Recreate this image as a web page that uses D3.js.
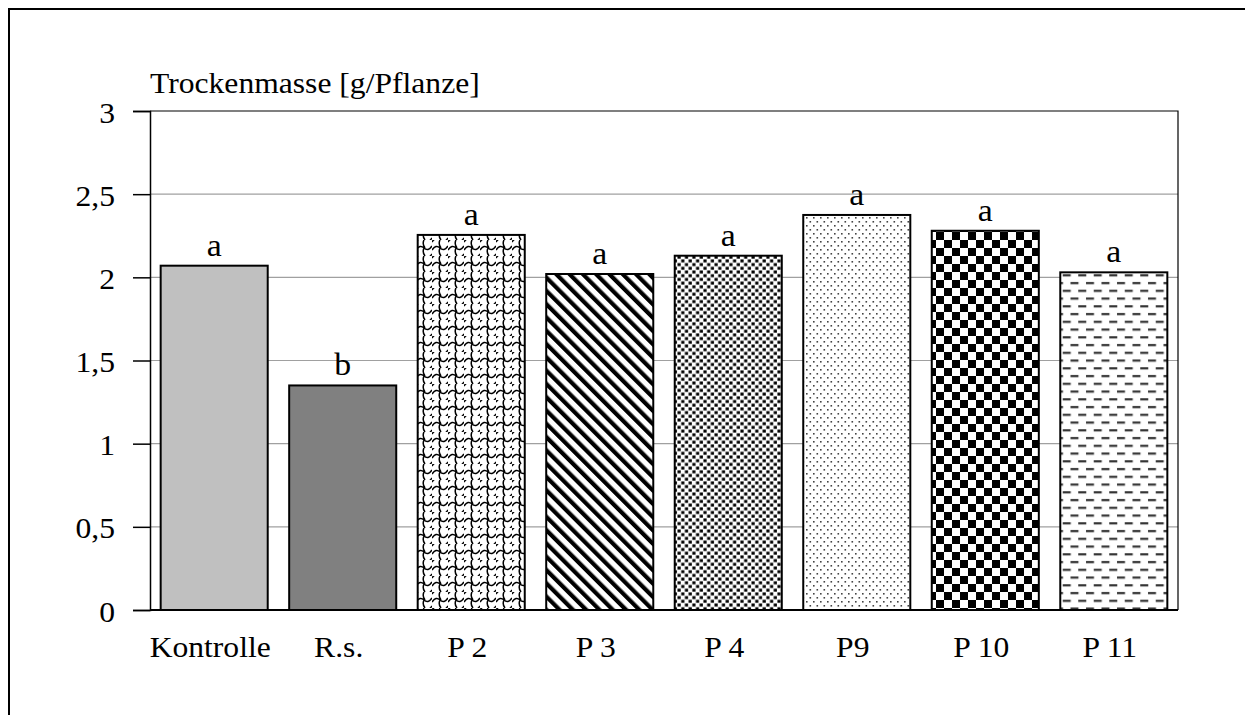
<!DOCTYPE html>
<html>
<head>
<meta charset="utf-8">
<script src="https://cdn.jsdelivr.net/npm/d3@7"></script>
<style>
  body { margin: 0; background: #fff; }
  text { font-family: "Liberation Serif", "Times New Roman", serif; fill: #000; }
</style>
</head>
<body>
<div class="visualization"></div>
<script>
const categories = ["Kontrolle", "R.s.", "P 2", "P 3", "P 4", "P9", "P 10", "P 11"];
const values = [2.07, 1.35, 2.255, 2.02, 2.13, 2.375, 2.28, 2.03];
const letters = ["a", "b", "a", "a", "a", "a", "a", "a"];
const yTicks = [0, 0.5, 1, 1.5, 2, 2.5, 3];
const fills = ["#c0c0c0", "#808080", "url(#shingle)", "url(#stripes)", "url(#dots)", "url(#fine)", "url(#checker)", "url(#dashes)"];

const stretch = 1.09; // the original text is slightly wide

const svg = d3.select(".visualization")
    .append("svg")
    .attr("width", 1245)
    .attr("height", 715);

// outer frame
svg.append("rect")
    .attr("x", 9).attr("y", 9)
    .attr("width", 1300).attr("height", 800)
    .attr("fill", "none").attr("stroke", "#000").attr("stroke-width", 2);

const defs = svg.append("defs");

// shingle-like pattern
let p = defs.append("pattern").attr("id", "shingle").attr("patternUnits", "userSpaceOnUse")
    .attr("width", 16).attr("height", 16);
p.append("rect").attr("width", 16).attr("height", 16).attr("fill", "#fff");
p.append("path")
    .attr("d", "M0,10 Q4,4 8,8 Q12,12 16,6 M0,2 Q4,-4 8,0 M8,16 Q12,20 16,14 M8,8 Q6,12 9,16 M8,0 Q6,4 9,8")
    .attr("fill", "none").attr("stroke", "#000").attr("stroke-width", 1.5);

// diagonal stripes (top-left to bottom-right)
p = defs.append("pattern").attr("id", "stripes").attr("patternUnits", "userSpaceOnUse")
    .attr("width", 9.4).attr("height", 12).attr("patternTransform", "rotate(-45)");
p.append("rect").attr("width", 9.4).attr("height", 12).attr("fill", "#fff");
p.append("rect").attr("x", 0).attr("width", 4.2).attr("height", 12).attr("fill", "#000");

// dense dots
p = defs.append("pattern").attr("id", "dots").attr("patternUnits", "userSpaceOnUse")
    .attr("width", 7.4).attr("height", 7.4);
p.append("rect").attr("width", 7.4).attr("height", 7.4).attr("fill", "#fff");
p.append("rect").attr("x", 0.4).attr("y", 0.4).attr("width", 3.2).attr("height", 3).attr("fill", "#000");
p.append("rect").attr("x", 4.1).attr("y", 4.1).attr("width", 3.2).attr("height", 3).attr("fill", "#000");

// fine sparse dots
p = defs.append("pattern").attr("id", "fine").attr("patternUnits", "userSpaceOnUse")
    .attr("width", 7).attr("height", 8);
p.append("rect").attr("width", 7).attr("height", 8).attr("fill", "#fff");
p.append("rect").attr("x", 1).attr("y", 1).attr("width", 1.6).attr("height", 1.6).attr("fill", "#444");
p.append("rect").attr("x", 4.5).attr("y", 5).attr("width", 1.6).attr("height", 1.6).attr("fill", "#444");

// checkerboard
p = defs.append("pattern").attr("id", "checker").attr("patternUnits", "userSpaceOnUse")
    .attr("width", 16).attr("height", 16);
p.append("rect").attr("width", 16).attr("height", 16).attr("fill", "#fff");
p.append("rect").attr("x", 0).attr("y", 0).attr("width", 8).attr("height", 8).attr("fill", "#000");
p.append("rect").attr("x", 8).attr("y", 8).attr("width", 8).attr("height", 8).attr("fill", "#000");

// horizontal dashes
p = defs.append("pattern").attr("id", "dashes").attr("patternUnits", "userSpaceOnUse")
    .attr("width", 15.5).attr("height", 15.5);
p.append("rect").attr("width", 15.5).attr("height", 15.5).attr("fill", "#fff");
p.append("rect").attr("x", 1).attr("y", 3).attr("width", 8).attr("height", 2.2).attr("fill", "#333");
p.append("rect").attr("x", 8.75).attr("y", 10.75).attr("width", 8).attr("height", 2.2).attr("fill", "#333");
p.append("rect").attr("x", -6.75).attr("y", 10.75).attr("width", 8).attr("height", 2.2).attr("fill", "#333");

const plotLeft = 150, plotRight = 1178, plotTop = 111, plotBottom = 610;

const x = d3.scaleBand().domain(categories).range([plotLeft, plotRight]).paddingInner(0.167).paddingOuter(0.083);
const y = d3.scaleLinear().domain([0, 3]).range([plotBottom, plotTop]);

// gridlines
svg.append("g").selectAll("line")
    .data(yTicks.filter(d => d > 0 && d < 3))
    .join("line")
    .attr("x1", plotLeft).attr("x2", plotRight)
    .attr("y1", d => y(d)).attr("y2", d => y(d))
    .attr("stroke", "#a0a0a0").attr("stroke-width", 1.2);

// plot frame (top and right)
svg.append("path")
    .attr("d", `M${plotLeft},${plotTop}H${plotRight}V${plotBottom}`)
    .attr("fill", "none").attr("stroke", "#000").attr("stroke-width", 1.2);

// bars
svg.append("g").selectAll("rect")
    .data(values)
    .join("rect")
    .attr("x", (d, i) => x(categories[i]))
    .attr("width", x.bandwidth())
    .attr("y", d => y(d))
    .attr("height", d => y(0) - y(d))
    .attr("fill", (d, i) => fills[i])
    .attr("stroke", "#000").attr("stroke-width", 2);

// letters
svg.append("g").selectAll("text")
    .data(values)
    .join("text")
    .attr("transform", (d, i) => `translate(${x(categories[i]) + x.bandwidth() / 2},${y(d) - 10}) scale(${stretch},1)`)
    .attr("text-anchor", "middle")
    .attr("font-size", 31)
    .text((d, i) => letters[i]);

// y axis
const yAxis = d3.axisLeft(y).tickValues(yTicks).tickSize(17)
    .tickFormat(d => String(d).replace(".", ","));
const ga = svg.append("g").attr("transform", `translate(${plotLeft},0)`).call(yAxis);
ga.select(".domain").attr("stroke", "#000").attr("stroke-width", 1.5);
ga.selectAll(".tick line").attr("stroke", "#000").attr("stroke-width", 1.5);
ga.selectAll(".tick text")
    .attr("x", null).attr("dy", null)
    .attr("transform", `translate(-35,11) scale(${stretch},1)`)
    .attr("font-size", 29).attr("font-family", "Liberation Serif, serif");

// x axis line
svg.append("line")
    .attr("x1", plotLeft).attr("x2", plotRight)
    .attr("y1", plotBottom).attr("y2", plotBottom)
    .attr("stroke", "#000").attr("stroke-width", 2);

// x labels
svg.append("g").selectAll("text")
    .data(categories)
    .join("text")
    .attr("transform", d => `translate(${x(d) + x.bandwidth() / 2 - 4},657) scale(${stretch},1)`)
    .attr("text-anchor", "middle")
    .attr("font-size", 29)
    .text(d => d);

// axis title
svg.append("text")
    .attr("transform", `translate(150,93) scale(${stretch},1)`)
    .attr("font-size", 29)
    .text("Trockenmasse [g/Pflanze]");
</script>
</body>
</html>
